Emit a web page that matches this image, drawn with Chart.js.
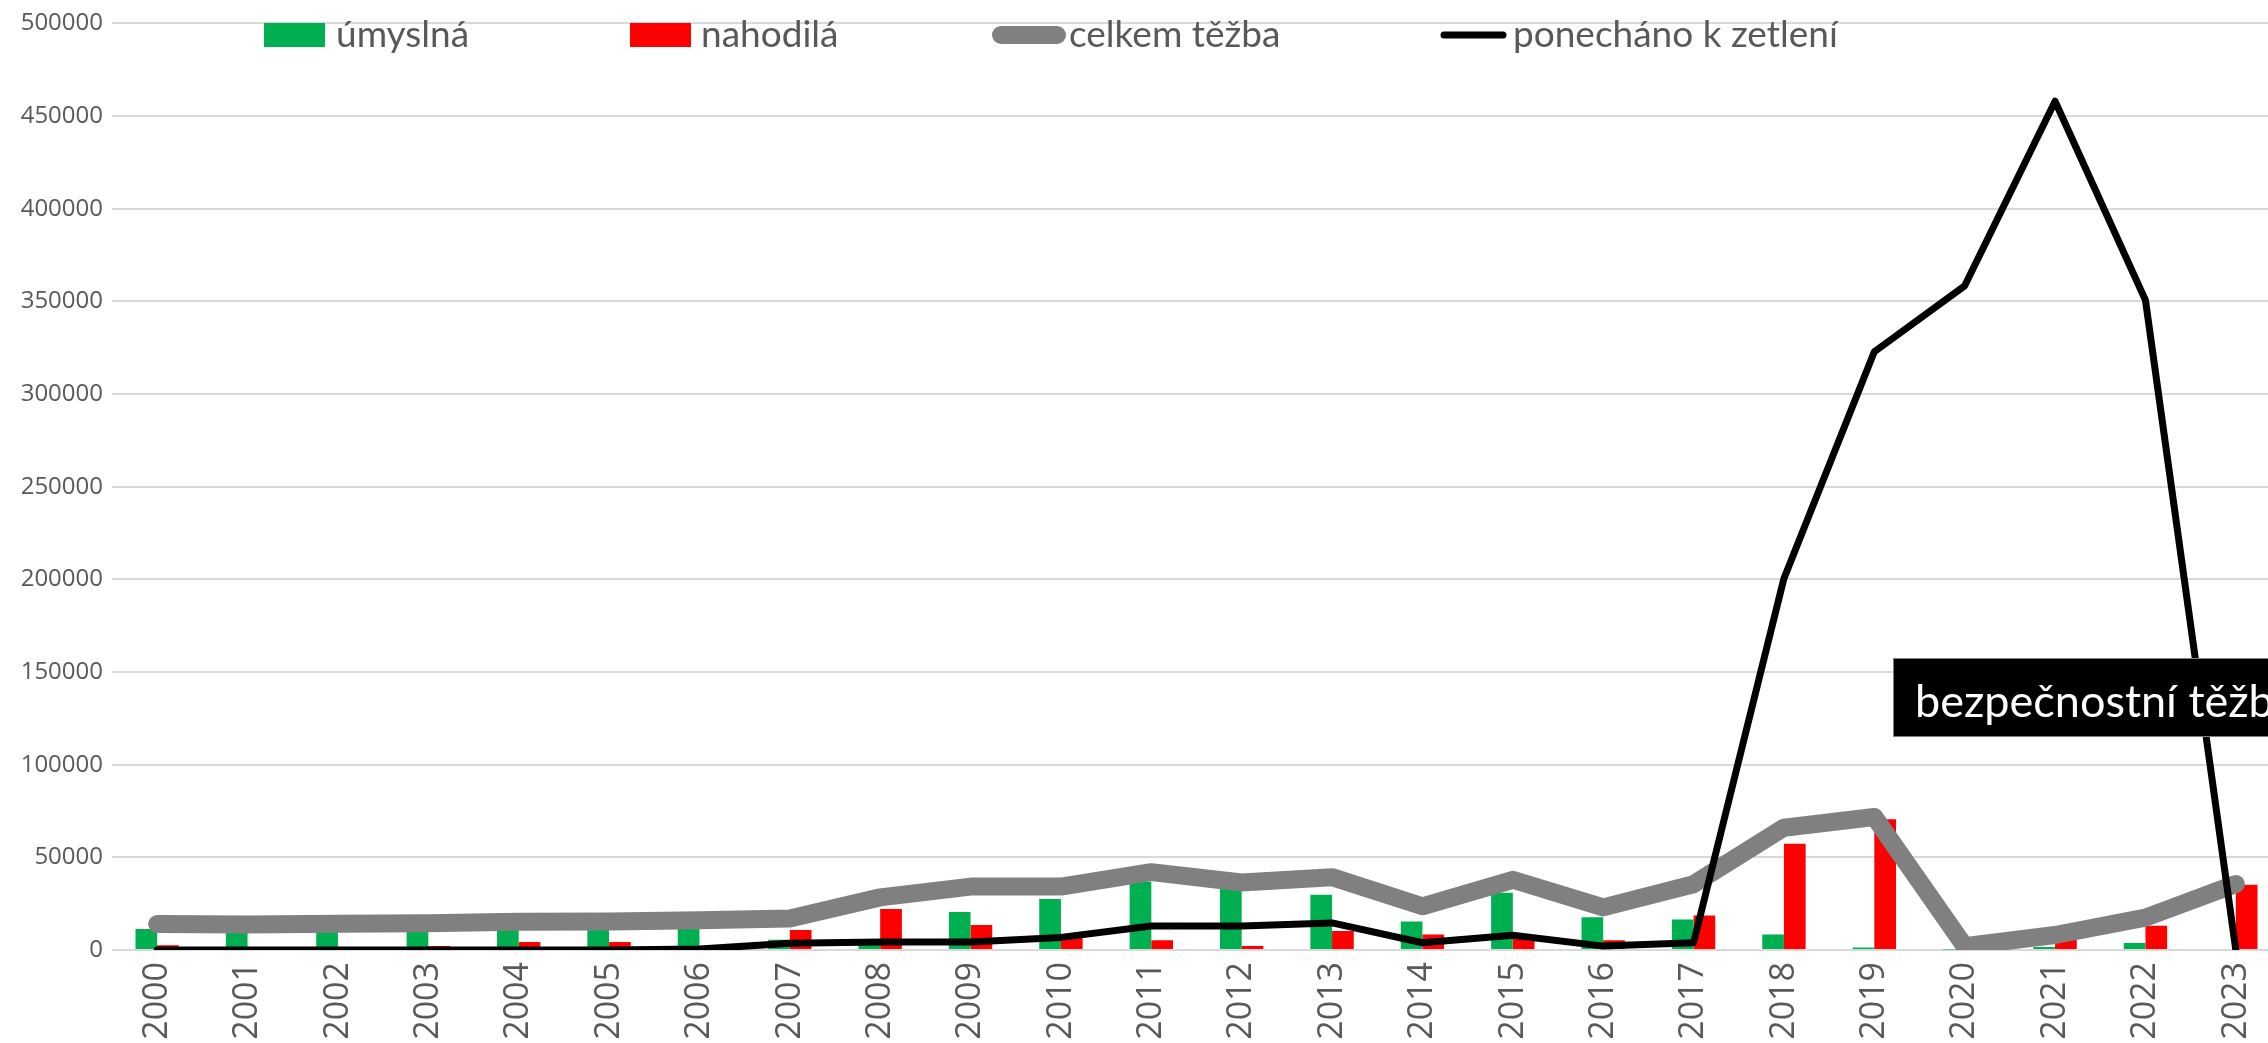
<!DOCTYPE html>
<html><head><meta charset="utf-8">
<script src="https://cdn.jsdelivr.net/npm/chart.js@4/dist/chart.umd.min.js"></script>
<style>
html,body{margin:0;padding:0;background:#fff;overflow:hidden;width:2268px;height:1043px}
#wrap{position:absolute;left:0;top:0;width:2300px;height:1043px}
</style></head><body>
<div id="wrap"><canvas id="c" width="2300" height="1043"></canvas></div>
<script>
const years = ['2000','2001','2002','2003','2004','2005','2006','2007','2008','2009','2010','2011','2012','2013','2014','2015','2016','2017','2018','2019','2020','2021','2022','2023'];
const umyslna = [11300,13600,14200,12300,11000,11100,14500,5500,5000,20500,27500,36800,34300,29800,15400,30900,17700,16400,8400,1400,300,1600,3800,500];
const nahodila = [2500,0,0,2100,4300,4300,1500,10800,22100,13500,6500,5200,2100,10200,8400,7000,5200,18600,57300,70500,1500,6000,13100,35200];
const celkemTezba = [14000,13700,14200,14400,15300,15400,16000,17000,28400,34200,34200,42000,36400,39300,23600,37900,23000,35500,66000,71800,2100,8100,17500,35600];
const ponechano = [0,0,0,0,0,0,500,3600,4300,4300,6800,12900,12900,14600,3900,8000,2100,3900,200500,322800,358400,458000,350700,0];
const seriesNames = ['úmyslná','nahodilá','celkem těžba','ponecháno k zetlení'];
const yMin = 0, yMax = 500000, yStep = 50000;
const annotationText = 'bezpečnostní těžba';

const GREEN='#00b050', RED='#ff0000', GRAY='#808080', BLACK='#000000', TXT='#595959';

const legendPlugin = {
  id:'customLegend',
  afterDraw(chart){
    const ctx = chart.ctx;
    ctx.save();
    const cy = 35;
    ctx.fillStyle = GREEN; ctx.fillRect(264, 23, 61, 24);
    ctx.fillStyle = RED; ctx.fillRect(630, 23, 61, 24);
    ctx.lineCap = 'round';
    ctx.strokeStyle = GRAY; ctx.lineWidth = 18;
    ctx.beginPath(); ctx.moveTo(1001, cy); ctx.lineTo(1057, cy); ctx.stroke();
    ctx.strokeStyle = BLACK; ctx.lineWidth = 7;
    ctx.beginPath(); ctx.moveTo(1444, cy); ctx.lineTo(1503, cy); ctx.stroke();
    ctx.fillStyle = TXT;
    ctx.font = '37px Lato';
    ctx.textBaseline = 'alphabetic';
    ctx.fillText(seriesNames[0], 336, 47);
    ctx.fillText(seriesNames[1], 701, 47);
    ctx.fillText(seriesNames[2], 1069, 47);
    ctx.fillText(seriesNames[3], 1513, 47);
    // annotation box
    ctx.fillStyle = '#000';
    ctx.fillRect(1893, 658, 420, 79);
    ctx.strokeStyle = '#7f7f7f'; ctx.lineWidth = 1;
    ctx.strokeRect(1893.5, 658.5, 420, 78);
    ctx.fillStyle = '#fff';
    ctx.font = '45px Lato';
    ctx.fillText(annotationText, 1915, 717);
    ctx.restore();
  }
};

function build(){
  new Chart(document.getElementById('c'), {
    type:'bar',
    data:{
      labels: years,
      datasets:[
        {type:'line', label:seriesNames[3], data:ponechano, borderColor:BLACK, borderWidth:7, pointRadius:0, borderCapStyle:'round', borderJoinStyle:'round', tension:0, order:0},
        {type:'line', label:seriesNames[2], data:celkemTezba, borderColor:GRAY, borderWidth:18, pointRadius:0, borderCapStyle:'round', borderJoinStyle:'round', tension:0, order:1},
        {type:'bar', label:seriesNames[0], data:umyslna, backgroundColor:GREEN, borderWidth:0, categoryPercentage:0.48, barPercentage:1.0, order:2},
        {type:'bar', label:seriesNames[1], data:nahodila, backgroundColor:RED, borderWidth:0, categoryPercentage:0.48, barPercentage:1.0, order:3}
      ]
    },
    options:{
      responsive:false, animation:false, devicePixelRatio:1,
      layout:{padding:{left:0,right:19,top:23,bottom:0}},
      plugins:{legend:{display:false}, tooltip:{enabled:false}},
      scales:{
        x:{
          grid:{display:false, drawTicks:false}, border:{display:false},
          ticks:{color:TXT, font:{family:'Open Sans', size:34}, minRotation:90, maxRotation:90, padding:12, autoSkip:false},
          afterFit(s){ s.height = 93; }
        },
        y:{
          min:yMin, max:yMax,
          ticks:{stepSize:yStep, color:TXT, font:{family:'Open Sans', size:24}, padding:9, callback:v=>String(v)},
          grid:{color:'#d9d9d9', lineWidth:2, drawTicks:false}, border:{display:false},
          afterFit(s){ s.width = 112; }
        }
      }
    },
    plugins:[legendPlugin]
  });
}
Promise.all([
  document.fonts.load('34px "Open Sans"'),
  document.fonts.load('24px "Open Sans"'),
  document.fonts.load('37px Lato'),
  document.fonts.load('45px Lato')
]).then(build, build);
</script>
</body></html>
